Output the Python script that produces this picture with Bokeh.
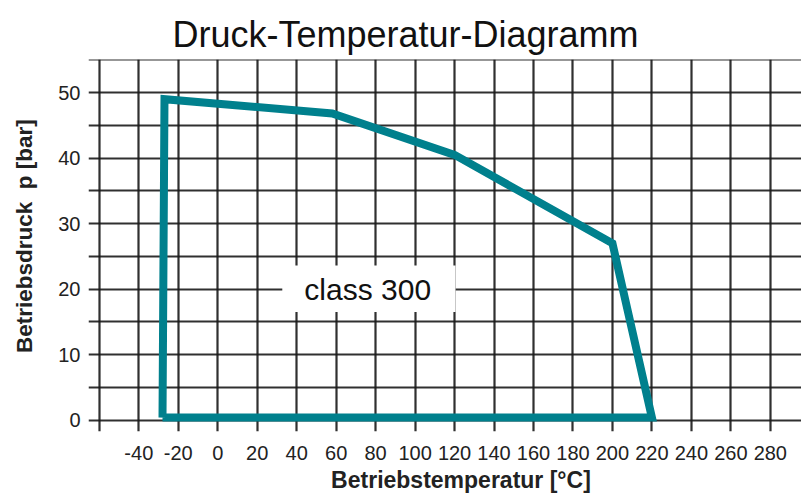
from bokeh.plotting import figure
from bokeh.models import FixedTicker, Range1d, ColumnDataSource
from bokeh.core.properties import value
from bokeh.embed import file_html
from bokeh.resources import INLINE

# ---- data ----
temperature = [-28, -27, 58, 120, 200, 220, -28]          # °C
pressure = [0.4, 49.0, 46.8, 40.5, 27.0, 0.4, 0.4]         # bar
x_tick_labels = [-40, -20, 0, 20, 40, 60, 80, 100, 120, 140, 160, 180, 200, 220, 240, 260, 280]
x_grid_lines = [-60] + x_tick_labels + [300]
y_tick_labels = [0, 10, 20, 30, 40, 50]
y_grid_lines = [0, 5, 10, 15, 20, 25, 30, 35, 40, 45, 50, 55]
chart_title = "Druck-Temperatur-Diagramm"
class_label = "class 300"
label_x, label_y = 76, 20

TEAL = "#00808d"
GRID = "#1a1a1a"
NBSP = "\u00a0"

p = figure(width=801, height=495, output_backend="svg", toolbar_location=None,
           x_range=Range1d(-65.5, 295.8), y_range=Range1d(-1.72, 55.05),
           min_border_left=88, min_border_right=0, min_border_top=59, min_border_bottom=62)
p.outline_line_color = None
p.background_fill_color = "white"
p.border_fill_color = "white"

p.title.text = chart_title
p.title.text_font = "Liberation Sans"
p.title.text_font_size = "36px"
p.title.text_font_style = "normal"
p.title.text_color = "#111111"
p.title.align = "left"
p.title.offset = 84

# axes
for ax in (p.xaxis[0], p.yaxis[0]):
    ax.axis_line_color = None
    ax.major_tick_line_color = None
    ax.minor_tick_line_color = None
    ax.major_tick_out = 0
    ax.major_tick_in = 0
    ax.major_label_text_color = "#222222"
    ax.axis_label_text_color = "#222222"
    ax.axis_label_text_font_style = "bold"
    ax.axis_label_text_font = "Liberation Sans"

p.xaxis.ticker = FixedTicker(ticks=x_tick_labels)
p.yaxis.ticker = FixedTicker(ticks=y_tick_labels)
p.xaxis.major_label_overrides = {t: str(t) for t in x_tick_labels}
p.xaxis.major_label_text_font = "Liberation Sans"
p.xaxis.major_label_text_font_size = "20px"
p.yaxis.major_label_text_font = "Liberation Sans"
p.yaxis.major_label_text_font_size = "20px"
p.xaxis.major_label_standoff = 14
p.yaxis.major_label_standoff = 8
# leading no-break spaces shift the centred titles to where the reference has them
p.xaxis.axis_label = NBSP * 5 + "Betriebstemperatur [°C]"
p.yaxis.axis_label = NBSP * 3 + "Betriebsdruck" + NBSP * 2 + "p [bar]"
p.xaxis.axis_label_text_font_size = "23px"
p.yaxis.axis_label_text_font_size = "22.5px"
p.xaxis.axis_label_standoff = 4
p.yaxis.axis_label_standoff = 18

# grid
p.xgrid.ticker = FixedTicker(ticks=x_grid_lines)
p.ygrid.ticker = FixedTicker(ticks=y_grid_lines)
for g in (p.xgrid[0], p.ygrid[0]):
    g.grid_line_color = GRID
    g.grid_line_width = 2.2
    g.grid_line_alpha = 0.9

# white label box covering the grid
p.quad(left=[32.7], right=[120.5], bottom=[16.5], top=[23.6],
       fill_color="white", line_color=None)
p.text(x=[label_x], y=[label_y], text=[class_label], text_align="center",
       text_baseline="middle", text_font=value("Liberation Sans"),
       text_font_size="30px", text_color="#111111")

# operating envelope
src = ColumnDataSource(data=dict(t=temperature, p=pressure))
p.line("t", "p", source=src, line_color=TEAL, line_width=8, line_join="miter")

open("out.html", "w").write(file_html(p, INLINE))
